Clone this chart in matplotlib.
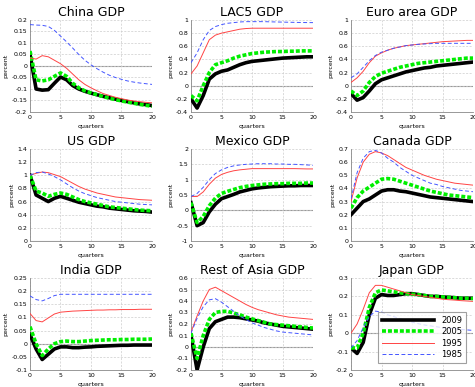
import matplotlib
matplotlib.use("Agg")
import matplotlib.pyplot as plt
import numpy as np

quarters = list(range(21))
labels = ["2009", "2005", "1995", "1985"]

titles = ["China GDP", "LAC5 GDP", "Euro area GDP",
          "US GDP", "Mexico GDP", "Canada GDP",
          "India GDP", "Rest of Asia GDP", "Japan GDP"]

china_2009 = [0.05, -0.10, -0.105, -0.103, -0.075, -0.048, -0.06, -0.085, -0.10, -0.11, -0.118, -0.125, -0.132, -0.138, -0.144, -0.15, -0.155, -0.16, -0.165, -0.168, -0.172]
china_2005 = [0.065, -0.06, -0.065, -0.06, -0.045, -0.03, -0.045, -0.075, -0.095, -0.108, -0.117, -0.125, -0.133, -0.14, -0.146, -0.152, -0.157, -0.162, -0.167, -0.171, -0.175]
china_1995 = [0.035, 0.03, 0.045, 0.04, 0.025, 0.01, -0.01, -0.035, -0.06, -0.08, -0.095, -0.108, -0.12, -0.128, -0.136, -0.142, -0.148, -0.152, -0.155, -0.158, -0.16]
china_1985 = [0.18, 0.178, 0.177, 0.172, 0.155, 0.13, 0.105, 0.078, 0.05, 0.025, 0.005, -0.012, -0.027, -0.04, -0.05, -0.058, -0.065, -0.07, -0.074, -0.077, -0.08]

lac5_2009 = [-0.2, -0.34, -0.15, 0.1, 0.18, 0.22, 0.24, 0.28, 0.32, 0.35, 0.37, 0.38, 0.39, 0.40, 0.41, 0.42, 0.425, 0.43, 0.435, 0.44, 0.44]
lac5_2005 = [-0.15, -0.23, 0.0, 0.2, 0.32, 0.35, 0.38, 0.42, 0.45, 0.47, 0.49, 0.50, 0.51, 0.515, 0.52, 0.52, 0.525, 0.525, 0.53, 0.53, 0.53]
lac5_1995 = [0.18, 0.3, 0.5, 0.7, 0.77, 0.8, 0.82, 0.84, 0.86, 0.87, 0.875, 0.875, 0.875, 0.875, 0.875, 0.875, 0.875, 0.875, 0.875, 0.875, 0.875]
lac5_1985 = [0.35, 0.5, 0.7, 0.84, 0.9, 0.93, 0.95, 0.96, 0.97, 0.975, 0.975, 0.975, 0.975, 0.972, 0.97, 0.968, 0.966, 0.964, 0.962, 0.961, 0.96]

euro_2009 = [-0.12, -0.22, -0.18, -0.08, 0.03, 0.09, 0.12, 0.15, 0.18, 0.21, 0.23, 0.25, 0.27, 0.28, 0.30, 0.31, 0.32, 0.33, 0.34, 0.35, 0.36]
euro_2005 = [-0.08, -0.15, -0.08, 0.05, 0.14, 0.19, 0.22, 0.25, 0.28, 0.30, 0.32, 0.34, 0.35, 0.36, 0.37, 0.38, 0.39, 0.40, 0.41, 0.42, 0.42]
euro_1995 = [0.05, 0.12, 0.22, 0.35, 0.45, 0.5, 0.54, 0.57, 0.59, 0.61, 0.62, 0.63, 0.64, 0.65, 0.66, 0.67, 0.675, 0.68, 0.685, 0.69, 0.69]
euro_1985 = [0.12, 0.18, 0.28, 0.38, 0.46, 0.51, 0.54, 0.57, 0.59, 0.61, 0.62, 0.63, 0.635, 0.64, 0.645, 0.645, 0.645, 0.645, 0.645, 0.645, 0.645]

us_2009 = [1.0, 0.7, 0.65, 0.6, 0.65, 0.68, 0.65, 0.62, 0.59, 0.57, 0.55, 0.53, 0.52, 0.5, 0.49, 0.48, 0.47, 0.46, 0.455, 0.45, 0.44]
us_2005 = [1.0, 0.76, 0.73, 0.68, 0.71, 0.73, 0.71, 0.67, 0.63, 0.6, 0.58, 0.56, 0.54, 0.52, 0.51, 0.5, 0.49, 0.48, 0.47, 0.465, 0.46]
us_1995 = [1.0, 1.03, 1.05, 1.04, 1.01, 0.98, 0.93, 0.88, 0.83, 0.79, 0.76, 0.73, 0.71, 0.69, 0.67, 0.66, 0.65, 0.64, 0.63, 0.625, 0.62]
us_1985 = [1.0, 1.04, 1.05, 1.02, 0.98, 0.93, 0.87, 0.81, 0.76, 0.72, 0.69, 0.66, 0.64, 0.62, 0.6, 0.59, 0.58, 0.57, 0.56, 0.555, 0.55]

mexico_2009 = [0.25, -0.5, -0.4, -0.05, 0.2, 0.38, 0.45, 0.52, 0.6, 0.65, 0.7, 0.73, 0.75, 0.77, 0.78, 0.79, 0.8, 0.8, 0.81, 0.81, 0.81]
mexico_2005 = [0.25, -0.4, -0.2, 0.15, 0.4, 0.55, 0.62, 0.68, 0.74, 0.78, 0.81, 0.83, 0.85, 0.86, 0.87, 0.87, 0.88, 0.88, 0.88, 0.89, 0.89]
mexico_1995 = [0.45, 0.45, 0.6, 0.85, 1.05, 1.17, 1.24, 1.29, 1.32, 1.34, 1.36, 1.36, 1.36, 1.36, 1.36, 1.36, 1.36, 1.36, 1.355, 1.35, 1.35]
mexico_1985 = [0.45, 0.55, 0.75, 1.0, 1.2, 1.32, 1.4, 1.45, 1.48, 1.5, 1.51, 1.52, 1.52, 1.52, 1.51, 1.51, 1.5, 1.5, 1.49, 1.48, 1.47]

canada_2009 = [0.2, 0.25, 0.3, 0.32, 0.35, 0.38, 0.39, 0.39, 0.38, 0.375, 0.365, 0.355, 0.345, 0.335, 0.33, 0.325, 0.32, 0.315, 0.31, 0.305, 0.3]
canada_2005 = [0.25, 0.33, 0.38, 0.41, 0.44, 0.47, 0.475, 0.47, 0.455, 0.44, 0.425, 0.41, 0.395, 0.38, 0.37, 0.36, 0.35, 0.345, 0.34, 0.335, 0.33]
canada_1995 = [0.3, 0.48, 0.6, 0.66, 0.68, 0.67, 0.65, 0.62, 0.59, 0.56, 0.54, 0.52, 0.5, 0.485, 0.47, 0.46, 0.45, 0.44, 0.435, 0.43, 0.425]
canada_1985 = [0.32, 0.52, 0.63, 0.68, 0.69, 0.67, 0.63, 0.6, 0.56, 0.53, 0.5, 0.48, 0.46, 0.44, 0.43, 0.415, 0.405, 0.395, 0.385, 0.38, 0.375]

india_2009 = [0.035, -0.02, -0.06, -0.04, -0.02, -0.012, -0.012, -0.015, -0.015, -0.013, -0.012, -0.01, -0.009, -0.008, -0.007, -0.006, -0.006, -0.005, -0.005, -0.005, -0.005]
india_2005 = [0.065, 0.0, -0.045, -0.02, 0.0, 0.008, 0.01, 0.008, 0.008, 0.01, 0.012, 0.013, 0.014, 0.015, 0.015, 0.016, 0.016, 0.017, 0.017, 0.017, 0.018]
india_1995 = [0.115, 0.088, 0.083, 0.098, 0.113, 0.12, 0.122, 0.124, 0.125, 0.126, 0.127, 0.128, 0.128, 0.129, 0.129, 0.13, 0.13, 0.13, 0.131, 0.131, 0.131]
india_1985 = [0.182, 0.168, 0.163, 0.172, 0.183, 0.188, 0.188, 0.188, 0.188, 0.188, 0.188, 0.188, 0.188, 0.188, 0.188, 0.188, 0.188, 0.188, 0.188, 0.188, 0.188]

roa_2009 = [0.1, -0.2, 0.0, 0.16, 0.22, 0.24, 0.26, 0.26, 0.255, 0.245, 0.235, 0.225, 0.21, 0.2, 0.19, 0.18, 0.175, 0.17, 0.165, 0.16, 0.155]
roa_2005 = [0.12, -0.1, 0.1, 0.24, 0.3, 0.31, 0.31, 0.295, 0.28, 0.26, 0.245, 0.23, 0.215, 0.2, 0.195, 0.19, 0.185, 0.18, 0.175, 0.17, 0.165]
roa_1995 = [0.13, 0.27, 0.4, 0.5, 0.52, 0.49, 0.46, 0.43, 0.4, 0.37, 0.345, 0.325, 0.31, 0.295, 0.28, 0.27, 0.26, 0.255, 0.25, 0.245, 0.24]
roa_1985 = [0.12, 0.25, 0.35, 0.41, 0.42, 0.39, 0.35, 0.31, 0.27, 0.24, 0.21, 0.19, 0.17, 0.155, 0.14, 0.13, 0.125, 0.12, 0.115, 0.11, 0.105]

japan_2009 = [-0.08, -0.11, -0.05, 0.1, 0.19, 0.21, 0.205, 0.205, 0.21, 0.215, 0.215, 0.21, 0.205, 0.2, 0.2, 0.197, 0.195, 0.193, 0.19, 0.19, 0.19]
japan_2005 = [-0.08, -0.08, 0.0, 0.14, 0.22, 0.235, 0.23, 0.225, 0.22, 0.215, 0.212, 0.21, 0.205, 0.2, 0.2, 0.197, 0.195, 0.193, 0.19, 0.19, 0.188]
japan_1995 = [0.0, 0.05, 0.13, 0.22, 0.26, 0.26, 0.25, 0.24, 0.23, 0.22, 0.21, 0.205, 0.2, 0.195, 0.19, 0.185, 0.182, 0.18, 0.177, 0.175, 0.173]
japan_1985 = [-0.08, -0.04, 0.03, 0.09, 0.12, 0.115, 0.1, 0.09, 0.08, 0.07, 0.06, 0.052, 0.045, 0.04, 0.035, 0.03, 0.027, 0.025, 0.02, 0.018, 0.015]

series = [
    (china_2009, china_2005, china_1995, china_1985),
    (lac5_2009, lac5_2005, lac5_1995, lac5_1985),
    (euro_2009, euro_2005, euro_1995, euro_1985),
    (us_2009, us_2005, us_1995, us_1985),
    (mexico_2009, mexico_2005, mexico_1995, mexico_1985),
    (canada_2009, canada_2005, canada_1995, canada_1985),
    (india_2009, india_2005, india_1995, india_1985),
    (roa_2009, roa_2005, roa_1995, roa_1985),
    (japan_2009, japan_2005, japan_1995, japan_1985),
]

ylims = [(-0.2, 0.2, 0.05), (-0.4, 1.0, 0.2), (-0.4, 1.0, 0.2),
         (0.0, 1.4, 0.2), (-1.0, 2.0, 0.5), (0.0, 0.7, 0.1),
         (-0.1, 0.25, 0.05), (-0.2, 0.6, 0.1), (-0.2, 0.3, 0.1)]

def fmt(v):
    s = ("%.2f" % v).rstrip("0").rstrip(".")
    if s == "-0":
        s = "0"
    return s

styles = [
    dict(color="black", lw=2.6, ls="-"),
    dict(color="#00ee00", lw=2.6, ls=(0, (1.1, 0.55)), dash_capstyle="butt"),
    dict(color="#ff4444", lw=0.7, ls="-"),
    dict(color="#4455ff", lw=0.7, ls=(0, (4, 2.5))),
]

fig = plt.figure(figsize=(4.75, 3.87), dpi=100)
lefts = [30 / 475, 191 / 475, 351 / 475]
bottoms = [1 - 112 / 387, 1 - 241 / 387, 1 - 370 / 387]
w = 122 / 475
h = 92 / 387

for i in range(9):
    r, c = divmod(i, 3)
    ax = fig.add_axes([lefts[c], bottoms[r], w, h])
    lo, hi, step = ylims[i]
    ax.axhline(0, color="#999999", lw=0.8, zorder=1)
    for data, st, lab in zip(series[i], styles, labels):
        ax.plot(quarters, data, label=lab, zorder=3, **st)
    ax.set_xlim(0, 20)
    ax.set_ylim(lo, hi)
    ticks = np.arange(lo, hi + step / 2, step)
    ax.set_yticks(ticks)
    ax.set_yticklabels([fmt(t) for t in ticks])
    ax.set_xticks([0, 5, 10, 15, 20])
    ax.grid(True, color="#cccccc", ls=(0, (3, 2)), lw=0.5)
    ax.tick_params(labelsize=4.5, length=0, pad=2)
    for sp in ax.spines.values():
        sp.set_color("#888888")
        sp.set_linewidth(0.6)
    ax.spines["top"].set_visible(False)
    ax.spines["right"].set_visible(False)
    ax.set_title(titles[i], fontsize=9, pad=3)
    ax.set_xlabel("quarters", fontsize=4.5, labelpad=3)
    ax.set_ylabel("percent", fontsize=4.5, labelpad=2)
    if i == 8:
        leg = ax.legend(loc="lower left", bbox_to_anchor=(0.19, 0.03),
                        fontsize=6, handlelength=6.2, frameon=True,
                        fancybox=False, edgecolor="#888888",
                        borderpad=0.45, labelspacing=0.3, handletextpad=0.9)
        leg.get_frame().set_linewidth(0.8)

fig.savefig("out.png", dpi=100)
